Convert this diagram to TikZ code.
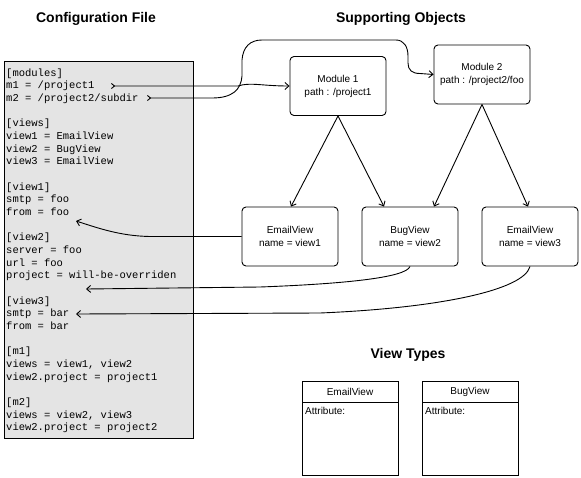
\documentclass[tikz,border=0pt]{standalone}
\usepackage{fontspec}
\setmainfont{Liberation Sans}
\setmonofont{Liberation Mono}
\usetikzlibrary{arrows.meta,calc}
\definecolor{cfggray}{RGB}{228,228,228}
\begin{document}
\begin{tikzpicture}[x=1pt,y=-1pt,
  titletext/.style={font=\fontsize{14}{16}\selectfont\bfseries, inner sep=0pt},
  objbox/.style={draw, line width=0.9pt, rounded corners=4pt, minimum width=96pt, minimum height=59pt, align=center, font=\fontsize{10}{13}\selectfont, inner sep=0pt},
  cfgline/.style={anchor=base west, font=\fontsize{10.5}{12}\selectfont\ttfamily, inner sep=0pt},
  typebox/.style={draw, line width=0.9pt, minimum width=96pt, minimum height=94pt, anchor=north west, inner sep=0pt},
  typetext/.style={font=\fontsize{10}{12}\selectfont, inner sep=0pt},
  conn/.style={line width=0.9pt, -{Straight Barb[length=4pt,width=7pt]}},
  tailconn/.style={line width=0.9pt, {Straight Barb[reversed,length=3pt,width=5pt]}-{Straight Barb[length=4pt,width=7pt]}},
]
\useasboundingbox[fill=white] (0,0) rectangle (581,477);

% titles
\node[titletext] (tcfg) at (96,19) {Configuration File};
\node[titletext] (tsup) at (401,19) {Supporting Objects};
\node[titletext] (tvt) at (408,355) {View Types};

% configuration file
\node[draw, line width=0.9pt, fill=cfggray, minimum width=189pt, minimum height=377pt, anchor=north west, inner sep=0pt] (cfg) at (4,61) {};
\node[cfgline] (c0) at (6,76.0) {[modules]};
\node[cfgline] (c1) at (6,88.7) {m1 = /project1};
\node[cfgline] (c2) at (6,101.3) {m2 = /project2/subdir};
\node[cfgline] (c4) at (6,126.7) {[views]};
\node[cfgline] (c5) at (6,139.4) {view1 = EmailView};
\node[cfgline] (c6) at (6,152.0) {view2 = BugView};
\node[cfgline] (c7) at (6,164.7) {view3 = EmailView};
\node[cfgline] (c9) at (6,190.0) {[view1]};
\node[cfgline] (c10) at (6,202.7) {smtp = foo};
\node[cfgline] (c11) at (6,215.4) {from = foo};
\node[cfgline] (c13) at (6,240.7) {[view2]};
\node[cfgline] (c14) at (6,253.4) {server = foo};
\node[cfgline] (c15) at (6,266.0) {url = foo};
\node[cfgline] (c16) at (6,278.7) {project = will-be-overriden};
\node[cfgline] (c18) at (6,304.1) {[view3]};
\node[cfgline] (c19) at (6,316.7) {smtp = bar};
\node[cfgline] (c20) at (6,329.4) {from = bar};
\node[cfgline] (c22) at (6,354.7) {[m1]};
\node[cfgline] (c23) at (6,367.4) {views = view1, view2};
\node[cfgline] (c24) at (6,380.1) {view2.project = project1};
\node[cfgline] (c26) at (6,405.4) {[m2]};
\node[cfgline] (c27) at (6,418.1) {views = view2, view3};
\node[cfgline] (c28) at (6,430.8) {view2.project = project2};

% supporting objects
\node[objbox] (mod1) at (338,86) {Module 1\\path : /project1};
\node[objbox] (mod2) at (482,74.5) {Module 2\\path : /project2/foo};
\node[objbox] (ev1) at (290,236.5) {EmailView\\name = view1};
\node[objbox] (bv) at (410,236.5) {BugView\\name = view2};
\node[objbox] (ev3) at (530,236.5) {EmailView\\name = view3};

% module -> view
\draw[conn] (mod1.south) -- ([xshift=1pt]ev1.north);
\draw[conn] (mod1.south) -- ([xshift=-26pt]bv.north);
\draw[conn] (mod2.south) -- ([xshift=24pt]bv.north);
\draw[conn] (mod2.south) -- ([xshift=-2pt]ev3.north);

% config -> modules
\coordinate (t1) at (111,86);
\coordinate (t2) at (147,98);
\draw[tailconn] (t1) -- (238,86) .. controls (250,82) and (262,86) .. (mod1.west);
\draw[tailconn] (t2) -- (212,98) .. controls (232,98) and (241,90) .. (242,76) -- (242,60)
  .. controls (243,47) and (250,40) .. (262,40) -- (396,40)
  .. controls (404,40) and (408,47) .. (408,56) -- (408,63)
  .. controls (408,70) and (412,73.5) .. (420,73.5) -- (mod2.west);

% views -> config
\coordinate (a1) at (76,221);
\coordinate (a2) at (86,289);
\coordinate (a3) at (76,314);
\draw[conn] (ev1.west) -- (150,236.5) .. controls (120,236) and (98,228) .. (a1);
\draw[conn] (bv.south) .. controls (406,278) and (340,284) .. (260,287) -- (a2);
\draw[conn] (ev3.south) .. controls (524,290) and (440,308) .. (320,313) -- (a3);

% view types
\node[typebox] (etbox) at (302,381) {};
\node[typebox] (btbox) at (422,381) {};
\draw[line width=0.9pt] ([yshift=-21pt]etbox.north west) -- ([yshift=-21pt]etbox.north east);
\draw[line width=0.9pt] ([yshift=-21pt]btbox.north west) -- ([yshift=-21pt]btbox.north east);
\node[typetext] (etname) at (350,391.5) {EmailView};
\node[typetext] (btname) at (470,391.5) {BugView};
\node[typetext, anchor=west] (etattr) at (305,411) {Attribute:};
\node[typetext, anchor=west] (btattr) at (425,411) {Attribute:};
\end{tikzpicture}
\end{document}
